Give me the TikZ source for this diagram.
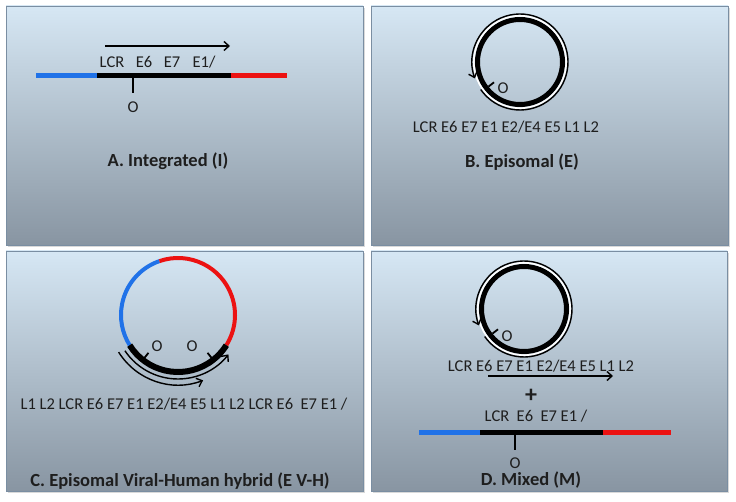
\documentclass[tikz,border=0pt]{standalone}
\usepackage{fontspec}
\setmainfont{Carlito}
\usetikzlibrary{arrows.meta}

\definecolor{boxtop}{RGB}{214,231,244}
\definecolor{boxbottom}{RGB}{136,149,162}
\definecolor{boxline}{RGB}{122,142,162}
\definecolor{hostblue}{RGB}{32,114,232}
\definecolor{hostred}{RGB}{236,18,18}
\definecolor{ink}{RGB}{30,30,30}

\tikzset{
  panel/.style={top color=boxtop, bottom color=boxbottom, draw=boxline, line width=0.8pt},
  panelshadow/.style={fill=black!15},
  genes/.style={font=\fontsize{16.5}{18}\selectfont, text=ink, inner sep=0pt},
  caption/.style={font=\bfseries\fontsize{18.5}{21}\selectfont, text=ink, inner sep=0pt},
  viral/.style={line width=5pt, black},
  hostleft/.style={line width=5pt, hostblue},
  hostright/.style={line width=5pt, hostred},
  ori/.style={line width=1.8pt, black},
  transcript/.style={line width=1.4pt, -{Straight Barb[length=5pt, width=9pt]}},
}

\begin{document}
\begin{tikzpicture}[x=1pt, y=-1pt]
  \useasboundingbox (0, 0) rectangle (736, 502);
  \fill[panelshadow] (8, 8) rectangle (365, 247);
  \fill[panelshadow] (373, 8) rectangle (730, 247);
  \fill[panelshadow] (8, 253) rectangle (365, 493);
  \fill[panelshadow] (373, 253) rectangle (729, 493);

  \draw[panel] (6, 6) rectangle (363, 245);
  \coordinate (a1) at (36, 76);
  \coordinate (a2) at (97, 76);
  \coordinate (a3) at (231, 76);
  \coordinate (a4) at (287, 76);
  \draw[hostleft] (a1) -- (a2);
  \draw[viral] (a2) -- (a3);
  \draw[hostright] (a3) -- (a4);
  \coordinate (aori) at (133, 76);
  \draw[ori] (aori) -- ++(0, 17);
  \node[genes] (aO) at (133, 107) {O};
  \coordinate (atx1) at (105, 46);
  \coordinate (atx2) at (230, 46);
  \draw[transcript] (atx1) -- (atx2);
  \node[genes] (aLCR) at (112, 62) {LCR};
  \node[genes] (aE6) at (144, 62) {E6};
  \node[genes] (aE7) at (172, 62) {E7};
  \node[genes] (aE1) at (204, 62) {E1/};
  \node[caption] (capA) at (168, 161) {A. Integrated (I)};

  \draw[panel] (371, 6) rectangle (728, 245);
  \coordinate (cB) at (520, 62);
  \draw[line width=5pt] (cB) circle[radius=42.5];
  \draw[white, line width=1.6pt] (cB) circle[radius=46.2];
  \draw[transcript] ([shift={(-215:48)}]cB) arc[start angle=-215, end angle=-560, radius=48];
  \draw[ori] ([shift={(-218:40)}]cB) -- ([shift={(-218:33)}]cB);
  \node[genes] (bO) at (503, 88) {O};
  \node[genes] (bGenes) at (506, 127) {LCR E6 E7 E1 E2/E4 E5 L1 L2};
  \node[caption] (capB) at (522, 162) {B. Episomal (E)};

  \draw[panel] (6, 251) rectangle (363, 491);
  \coordinate (cC) at (178, 315);
  \draw[line width=4pt, hostblue] ([shift={(-109:57)}]cC) arc[start angle=-109, end angle=-212, radius=57];
  \draw[line width=4pt, hostred] ([shift={(-109:57)}]cC) arc[start angle=-109, end angle=32, radius=57];
  \draw[line width=6pt] ([shift={(-212:57)}]cC) arc[start angle=-212, end angle=-328, radius=57];
  \draw[ori] ([shift={(-232:55)}]cC) -- ([shift={(-232:48)}]cC);
  \draw[ori] ([shift={(-308:55)}]cC) -- ([shift={(-308:48)}]cC);
  \node[genes] (cO1) at (157, 346) {O};
  \node[genes] (cO2) at (192, 346) {O};
  \draw[transcript] ([shift={(-214:64)}]cC) arc[start angle=-214, end angle=-322, radius=64];
  \draw[transcript] ([shift={(-212:70)}]cC) arc[start angle=-212, end angle=-291, radius=70];
  \node[genes] (cGenes) at (184, 404) {L1 L2 LCR E6 E7 E1 E2/E4 E5 L1 L2 LCR E6\ \ E7 E1 /};
  \node[caption] (capC) at (180, 481) {C. Episomal Viral-Human hybrid (E V-H)};

  \draw[panel] (371, 251) rectangle (727, 491);
  \coordinate (cD) at (524, 309);
  \draw[line width=5pt] (cD) circle[radius=42.5];
  \draw[white, line width=1.6pt] (cD) circle[radius=46.2];
  \draw[transcript] ([shift={(-215:48)}]cD) arc[start angle=-215, end angle=-560, radius=48];
  \draw[ori] ([shift={(-218:40)}]cD) -- ([shift={(-218:33)}]cD);
  \node[genes] (dO1) at (507, 336) {O};
  \node[genes] (dGenes) at (541, 366) {LCR E6 E7 E1 E2/E4 E5 L1 L2};
  \coordinate (dtx1) at (488, 376);
  \coordinate (dtx2) at (613, 376);
  \draw[transcript] (dtx1) -- (dtx2);
  \node[font=\bfseries\fontsize{24}{26}\selectfont, text=ink, inner sep=0pt] (plus) at (531, 396) {+};
  \node[genes] (dLine) at (536, 416) {LCR\ \ E6\ \ E7 E1 /};
  \coordinate (d1) at (419, 432);
  \coordinate (d2) at (480, 432);
  \coordinate (d3) at (603, 432);
  \coordinate (d4) at (671, 432);
  \draw[hostleft] (d1) -- (d2);
  \draw[viral] (d2) -- (d3);
  \draw[hostright] (d3) -- (d4);
  \coordinate (dori) at (515, 432);
  \draw[ori] (dori) -- ++(0, 18);
  \node[genes] (dO2) at (515, 463) {O};
  \node[caption] (capD) at (531, 480) {D. Mixed (M)};
\end{tikzpicture}
\end{document}
